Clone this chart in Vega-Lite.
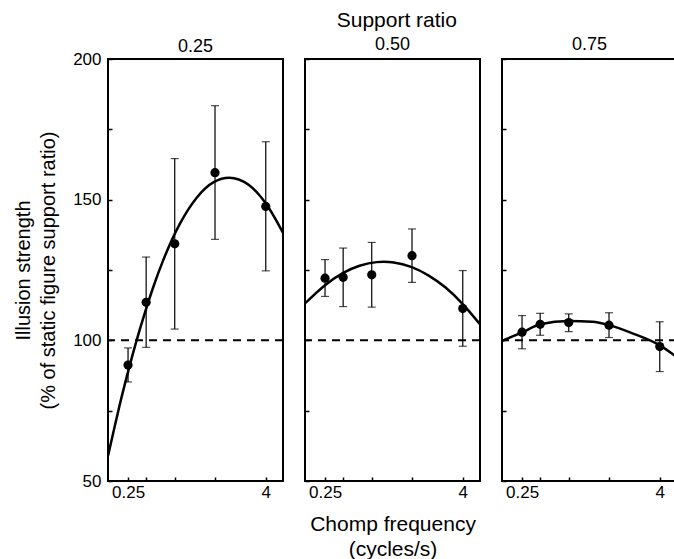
{
  "$schema": "https://vega.github.io/schema/vega-lite/v6.json",
  "background": "white",
  "padding": {"left": 12, "top": 10, "right": 0, "bottom": 0},
  "config": {
    "font": "Liberation Sans",
    "view": {"stroke": "black", "strokeWidth": 2},
    "axis": {"domain": false, "grid": false, "tickColor": "black", "tickWidth": 1.5, "labelColor": "black", "titleColor": "black", "labelFontSize": 17, "titleFontSize": 20, "titleFontWeight": "normal", "labelFont": "Liberation Sans", "titleFont": "Liberation Sans", "labelFlush": false, "labelOverlap": false, "labelBound": false},
    "title": {"font": "Liberation Sans", "fontSize": 18, "fontWeight": "normal", "color": "black"},
    "concat": {"spacing": 18}
  },
  "title": {"text": "Support ratio", "fontSize": 21, "anchor": "middle", "offset": 4, "dx": 51},
  "datasets": {
    "points": [
      {"ratio": "0.25", "freq": 0.25, "mean": 91.2, "lo": 85.2, "hi": 97.3},
      {"ratio": "0.25", "freq": 0.36, "mean": 113.5, "lo": 97.5, "hi": 129.6},
      {"ratio": "0.25", "freq": 0.64, "mean": 134.3, "lo": 104.0, "hi": 164.6},
      {"ratio": "0.25", "freq": 1.44, "mean": 159.6, "lo": 135.9, "hi": 183.4},
      {"ratio": "0.25", "freq": 4, "mean": 147.6, "lo": 124.7, "hi": 170.6},
      {"ratio": "0.50", "freq": 0.25, "mean": 122.1, "lo": 115.6, "hi": 128.7},
      {"ratio": "0.50", "freq": 0.36, "mean": 122.4, "lo": 112.0, "hi": 132.8},
      {"ratio": "0.50", "freq": 0.64, "mean": 123.3, "lo": 111.8, "hi": 134.8},
      {"ratio": "0.50", "freq": 1.44, "mean": 130.1, "lo": 120.6, "hi": 139.6},
      {"ratio": "0.50", "freq": 4, "mean": 111.3, "lo": 97.9, "hi": 124.8},
      {"ratio": "0.75", "freq": 0.25, "mean": 102.9, "lo": 97.0, "hi": 108.8},
      {"ratio": "0.75", "freq": 0.36, "mean": 105.7, "lo": 101.8, "hi": 109.6},
      {"ratio": "0.75", "freq": 0.64, "mean": 106.3, "lo": 103.1, "hi": 109.4},
      {"ratio": "0.75", "freq": 1.44, "mean": 105.4, "lo": 101.0, "hi": 109.8},
      {"ratio": "0.75", "freq": 4, "mean": 97.8, "lo": 88.9, "hi": 106.6}
    ],
    "curve": [
      {"ratio": "0.25", "freq": 0.167, "fit": 58.9},
      {"ratio": "0.25", "freq": 0.185, "fit": 66.9},
      {"ratio": "0.25", "freq": 0.21, "fit": 76.6},
      {"ratio": "0.25", "freq": 0.25, "fit": 88.8},
      {"ratio": "0.25", "freq": 0.29, "fit": 98.5},
      {"ratio": "0.25", "freq": 0.354, "fit": 110.3},
      {"ratio": "0.25", "freq": 0.42, "fit": 119.5},
      {"ratio": "0.25", "freq": 0.5, "fit": 127.8},
      {"ratio": "0.25", "freq": 0.707, "fit": 141.3},
      {"ratio": "0.25", "freq": 1.0, "fit": 150.8},
      {"ratio": "0.25", "freq": 1.414, "fit": 156.3},
      {"ratio": "0.25", "freq": 1.913, "fit": 157.8},
      {"ratio": "0.25", "freq": 2.83, "fit": 155.3},
      {"ratio": "0.25", "freq": 4.0, "fit": 148.7},
      {"ratio": "0.25", "freq": 5.66, "fit": 138.2},
      {"ratio": "0.50", "freq": 0.167, "fit": 113.1},
      {"ratio": "0.50", "freq": 0.25, "fit": 119.6},
      {"ratio": "0.50", "freq": 0.354, "fit": 123.8},
      {"ratio": "0.50", "freq": 0.5, "fit": 126.5},
      {"ratio": "0.50", "freq": 0.707, "fit": 127.8},
      {"ratio": "0.50", "freq": 0.815, "fit": 127.9},
      {"ratio": "0.50", "freq": 1.0, "fit": 127.65},
      {"ratio": "0.50", "freq": 1.414, "fit": 126.1},
      {"ratio": "0.50", "freq": 2.0, "fit": 123.1},
      {"ratio": "0.50", "freq": 2.83, "fit": 118.75},
      {"ratio": "0.50", "freq": 4.0, "fit": 112.9},
      {"ratio": "0.50", "freq": 5.66, "fit": 105.7},
      {"ratio": "0.75", "freq": 0.167, "fit": 99.8},
      {"ratio": "0.75", "freq": 0.25, "fit": 102.8},
      {"ratio": "0.75", "freq": 0.361, "fit": 105.7},
      {"ratio": "0.75", "freq": 0.642, "fit": 106.9},
      {"ratio": "0.75", "freq": 1.03, "fit": 106.6},
      {"ratio": "0.75", "freq": 1.444, "fit": 105.4},
      {"ratio": "0.75", "freq": 2.31, "fit": 102.5},
      {"ratio": "0.75", "freq": 3.97, "fit": 98.3},
      {"ratio": "0.75", "freq": 5.66, "fit": 94.0}
    ],
    "baseline": [{"level": 100}]
  },
  "hconcat": [
    {
      "width": 175, "height": 422,
      "title": {"text": "0.25", "offset": -6},
      "layer": [
        {"data": {"name": "points"}, "transform": [{"filter": "datum.ratio == '0.25'"}],
         "mark": {"type": "rule", "color": "black", "strokeWidth": 1.2},
         "encoding": {
           "x": {"field": "freq", "type": "quantitative", "scale": {"type": "log", "domain": [0.167, 5.66], "nice": false}, "axis": {"title": null, "values": [0.25, 0.36, 0.64, 1.44, 4], "labelExpr": "datum.value == 0.25 ? '0.25' : (datum.value == 4 ? '4' : '')", "tickSize": -4, "labelPadding": 7}},
           "y": {"field": "lo", "type": "quantitative", "scale": {"domain": [50, 200], "nice": false, "zero": false}, "axis": {"title": ["Illusion strength", "(% of static figure support ratio)"], "titleLineHeight": 25, "titlePadding": 14, "values": [50, 75, 100, 125, 150, 175, 200], "labelExpr": "datum.value % 50 == 0 ? datum.label : ''", "tickSize": -4, "labelPadding": 11}},
           "y2": {"field": "hi"}
         }},
        {"data": {"name": "points"}, "transform": [{"filter": "datum.ratio == '0.25'"}],
         "mark": {"type": "tick", "orient": "horizontal", "color": "black", "size": 8, "thickness": 1.2},
         "encoding": {"x": {"field": "freq", "type": "quantitative"}, "y": {"field": "lo", "type": "quantitative"}}},
        {"data": {"name": "points"}, "transform": [{"filter": "datum.ratio == '0.25'"}],
         "mark": {"type": "tick", "orient": "horizontal", "color": "black", "size": 8, "thickness": 1.2},
         "encoding": {"x": {"field": "freq", "type": "quantitative"}, "y": {"field": "hi", "type": "quantitative"}}},
        {"data": {"name": "baseline"},
         "mark": {"type": "rule", "color": "black", "strokeWidth": 2, "strokeDash": [8, 6]},
         "encoding": {"y": {"field": "level", "type": "quantitative"}}},
        {"data": {"name": "curve"}, "transform": [{"filter": "datum.ratio == '0.25'"}],
         "mark": {"type": "line", "color": "black", "strokeWidth": 2.5, "interpolate": "monotone", "clip": true},
         "encoding": {"x": {"field": "freq", "type": "quantitative"}, "y": {"field": "fit", "type": "quantitative"}}},
        {"data": {"name": "points"}, "transform": [{"filter": "datum.ratio == '0.25'"}],
         "mark": {"type": "circle", "color": "black", "opacity": 1, "size": 85},
         "encoding": {"x": {"field": "freq", "type": "quantitative"}, "y": {"field": "mean", "type": "quantitative"}}}
      ]
    },
    {
      "width": 175, "height": 422,
      "title": {"text": "0.50", "offset": 4},
      "layer": [
        {"data": {"name": "points"}, "transform": [{"filter": "datum.ratio == '0.50'"}],
         "mark": {"type": "rule", "color": "black", "strokeWidth": 1.2},
         "encoding": {
           "x": {"field": "freq", "type": "quantitative", "scale": {"type": "log", "domain": [0.167, 5.66], "nice": false}, "axis": {"title": ["Chomp frequency", "(cycles/s)"], "titleFontSize": 21, "titleLineHeight": 25, "titlePadding": 13, "values": [0.25, 0.36, 0.64, 1.44, 4], "labelExpr": "datum.value == 0.25 ? '0.25' : (datum.value == 4 ? '4' : '')", "tickSize": -4, "labelPadding": 7}},
           "y": {"field": "lo", "type": "quantitative", "scale": {"domain": [50, 200], "nice": false, "zero": false}, "axis": {"title": null, "values": [50, 75, 100, 125, 150, 175, 200], "labels": false, "tickSize": -4}},
           "y2": {"field": "hi"}
         }},
        {"data": {"name": "points"}, "transform": [{"filter": "datum.ratio == '0.50'"}],
         "mark": {"type": "tick", "orient": "horizontal", "color": "black", "size": 8, "thickness": 1.2},
         "encoding": {"x": {"field": "freq", "type": "quantitative"}, "y": {"field": "lo", "type": "quantitative"}}},
        {"data": {"name": "points"}, "transform": [{"filter": "datum.ratio == '0.50'"}],
         "mark": {"type": "tick", "orient": "horizontal", "color": "black", "size": 8, "thickness": 1.2},
         "encoding": {"x": {"field": "freq", "type": "quantitative"}, "y": {"field": "hi", "type": "quantitative"}}},
        {"data": {"name": "baseline"},
         "mark": {"type": "rule", "color": "black", "strokeWidth": 2, "strokeDash": [8, 6]},
         "encoding": {"y": {"field": "level", "type": "quantitative"}}},
        {"data": {"name": "curve"}, "transform": [{"filter": "datum.ratio == '0.50'"}],
         "mark": {"type": "line", "color": "black", "strokeWidth": 2.5, "interpolate": "monotone", "clip": true},
         "encoding": {"x": {"field": "freq", "type": "quantitative"}, "y": {"field": "fit", "type": "quantitative"}}},
        {"data": {"name": "points"}, "transform": [{"filter": "datum.ratio == '0.50'"}],
         "mark": {"type": "circle", "color": "black", "opacity": 1, "size": 85},
         "encoding": {"x": {"field": "freq", "type": "quantitative"}, "y": {"field": "mean", "type": "quantitative"}}}
      ]
    },
    {
      "width": 175, "height": 422,
      "title": {"text": "0.75", "offset": 4},
      "layer": [
        {"data": {"name": "points"}, "transform": [{"filter": "datum.ratio == '0.75'"}],
         "mark": {"type": "rule", "color": "black", "strokeWidth": 1.2},
         "encoding": {
           "x": {"field": "freq", "type": "quantitative", "scale": {"type": "log", "domain": [0.167, 5.66], "nice": false}, "axis": {"title": null, "values": [0.25, 0.36, 0.64, 1.44, 4], "labelExpr": "datum.value == 0.25 ? '0.25' : (datum.value == 4 ? '4' : '')", "tickSize": -4, "labelPadding": 7}},
           "y": {"field": "lo", "type": "quantitative", "scale": {"domain": [50, 200], "nice": false, "zero": false}, "axis": {"title": null, "values": [50, 75, 100, 125, 150, 175, 200], "labels": false, "tickSize": -4}},
           "y2": {"field": "hi"}
         }},
        {"data": {"name": "points"}, "transform": [{"filter": "datum.ratio == '0.75'"}],
         "mark": {"type": "tick", "orient": "horizontal", "color": "black", "size": 8, "thickness": 1.2},
         "encoding": {"x": {"field": "freq", "type": "quantitative"}, "y": {"field": "lo", "type": "quantitative"}}},
        {"data": {"name": "points"}, "transform": [{"filter": "datum.ratio == '0.75'"}],
         "mark": {"type": "tick", "orient": "horizontal", "color": "black", "size": 8, "thickness": 1.2},
         "encoding": {"x": {"field": "freq", "type": "quantitative"}, "y": {"field": "hi", "type": "quantitative"}}},
        {"data": {"name": "baseline"},
         "mark": {"type": "rule", "color": "black", "strokeWidth": 2, "strokeDash": [8, 6]},
         "encoding": {"y": {"field": "level", "type": "quantitative"}}},
        {"data": {"name": "curve"}, "transform": [{"filter": "datum.ratio == '0.75'"}],
         "mark": {"type": "line", "color": "black", "strokeWidth": 2.5, "interpolate": "monotone", "clip": true},
         "encoding": {"x": {"field": "freq", "type": "quantitative"}, "y": {"field": "fit", "type": "quantitative"}}},
        {"data": {"name": "points"}, "transform": [{"filter": "datum.ratio == '0.75'"}],
         "mark": {"type": "circle", "color": "black", "opacity": 1, "size": 85},
         "encoding": {"x": {"field": "freq", "type": "quantitative"}, "y": {"field": "mean", "type": "quantitative"}}}
      ]
    }
  ]
}
